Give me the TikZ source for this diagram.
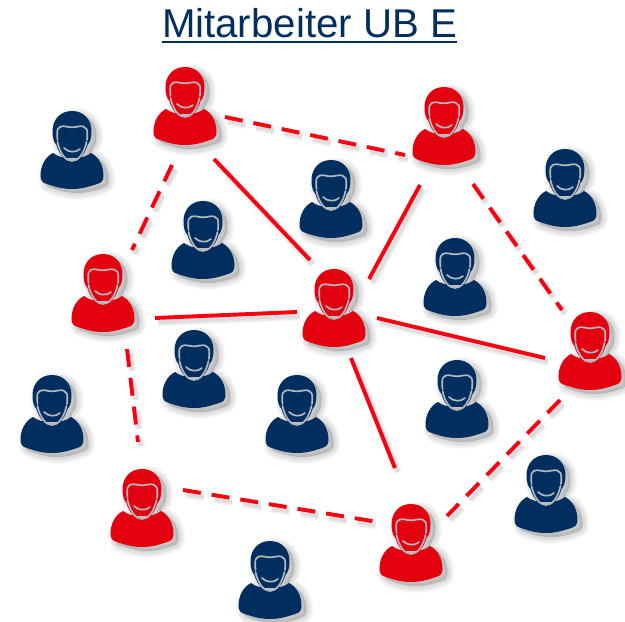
\documentclass[tikz,border=0pt]{standalone}
\usepackage{fontspec}
\setmainfont{Liberation Sans}
\definecolor{navy}{HTML}{002F5F}
\definecolor{ubred}{HTML}{E3000F}
\definecolor{linkred}{HTML}{FA0010}
\definecolor{hairline}{HTML}{B4B8BE}
\newcommand{\personpath}{
  (0,0) .. controls (12,0) and (19.5,9) .. (19.5,20) .. controls (19.5,26) and (18.5,31) .. (15.5,34)
  .. controls (13,44) and (6,50.5) .. (0,50.5) .. controls (-6,50.5) and (-13,44) .. (-15.5,34)
  .. controls (-18.5,31) and (-19.5,26) .. (-19.5,20) .. controls (-19.5,9) and (-12,0) .. (0,0) -- cycle
  (-19,42) .. controls (-27,46) and (-31.5,55) .. (-31.5,65)
  .. controls (-31.5,70) and (-29,72) .. (-25,73) .. controls (-15,76.5) and (-8,78) .. (0,78)
  .. controls (8,78) and (15,76.5) .. (25,73) .. controls (29,72) and (31.5,70) .. (31.5,65)
  .. controls (31.5,55) and (27,46) .. (19,42) .. controls (14,46) and (8,47) .. (0,47)
  .. controls (-8,47) and (-14,46) .. (-19,42) -- cycle}
\tikzset{
  x=1pt,y=-1pt,
  person/.pic={
    \foreach \w in {14,12,10,8,6,4,2}{
      \fill[black,opacity=.022,draw=black,line width=\w pt,line join=round,shift={(5,4)}] \personpath;
    }
    \fill[#1] \personpath;
    \draw[hairline,line width=1.7pt,line cap=round]
      (-14.5,29) .. controls (-15,23) and (-15,19) .. (-14,18) .. controls (-12,15) and (-10,15) .. (-6,15.5)
      .. controls (-3,16.5) and (3,16.5) .. (6,15.5) .. controls (10,15) and (13,15) .. (14.5,18)
      .. controls (15.5,20) and (15.5,24) .. (15,29);
    \draw[hairline,line width=1.7pt,line cap=round]
      (-14.5,31) .. controls (-12,43) and (-6,50) .. (0,50) .. controls (6,50) and (12,43) .. (14.5,31);
    \draw[hairline,line width=1.7pt,line cap=round]
      (-8,37) .. controls (-4,41.5) and (4,42) .. (8,38);
  },
  link/.style={linkred,line width=3.9pt},
  dashlink/.style={link,dash pattern=on 18pt off 11pt},
  linkshade/.style={black,opacity=.035,transform canvas={xshift=3pt,yshift=-4pt}},
  dashshade/.style={linkshade,dash pattern=on 18pt off 11pt},
  titlenode/.style={navy,font=\fontsize{40.2}{40}\selectfont,inner sep=0pt,anchor=base},
}
\begin{document}
\begin{tikzpicture}
\useasboundingbox (0,0) rectangle (625,622);
\node[titlenode] (title) at (309.5,37) {Mitarbeiter UB E};
\draw[navy,line width=1.8pt] ([yshift=-5pt]title.base west) -- ([yshift=-5pt]title.base east);

\foreach \x/\y in {72/111,203/201,331/160,565/149,455/238,194/330,52/375,297/375,457/360,546/455,270/541}
  \pic at (\x,\y) {person=navy};
\foreach \x/\y in {185/67,444/87,103/254,334/269,590/312,142/469,411/504}
  \pic at (\x,\y) {person=ubred};

\coordinate (a1) at (214,159); \coordinate (a2) at (310,260);
\coordinate (b1) at (420,185); \coordinate (b2) at (369,279);
\coordinate (c1) at (155,318); \coordinate (c2) at (297,312);
\coordinate (d1) at (377,318); \coordinate (d2) at (545,358);
\coordinate (e1) at (351,358); \coordinate (e2) at (395,468);
\coordinate (f1) at (225,117); \coordinate (f2) at (405,155);
\coordinate (g1) at (172,165); \coordinate (g2) at (132,250);
\coordinate (h1) at (473,184); \coordinate (h2) at (562,310);
\coordinate (i1) at (127,349); \coordinate (i2) at (138,442);
\coordinate (j1) at (183,490); \coordinate (j2) at (378,522);
\coordinate (k1) at (560,400); \coordinate (k2) at (447,516);

\foreach \p/\q in {a1/a2,b1/b2,c1/c2,d1/d2,e1/e2}{
  \foreach \w in {9,7,5,3}{\draw[linkshade,line width=\w pt] (\p) -- (\q);}
  \draw[link] (\p) -- (\q);
}
\foreach \p/\q in {f1/f2,g1/g2,h1/h2,i1/i2,j1/j2,k1/k2}{
  \foreach \w in {9,7,5,3}{\draw[dashshade,line width=\w pt] (\p) -- (\q);}
  \draw[dashlink] (\p) -- (\q);
}
\end{tikzpicture}
\end{document}
